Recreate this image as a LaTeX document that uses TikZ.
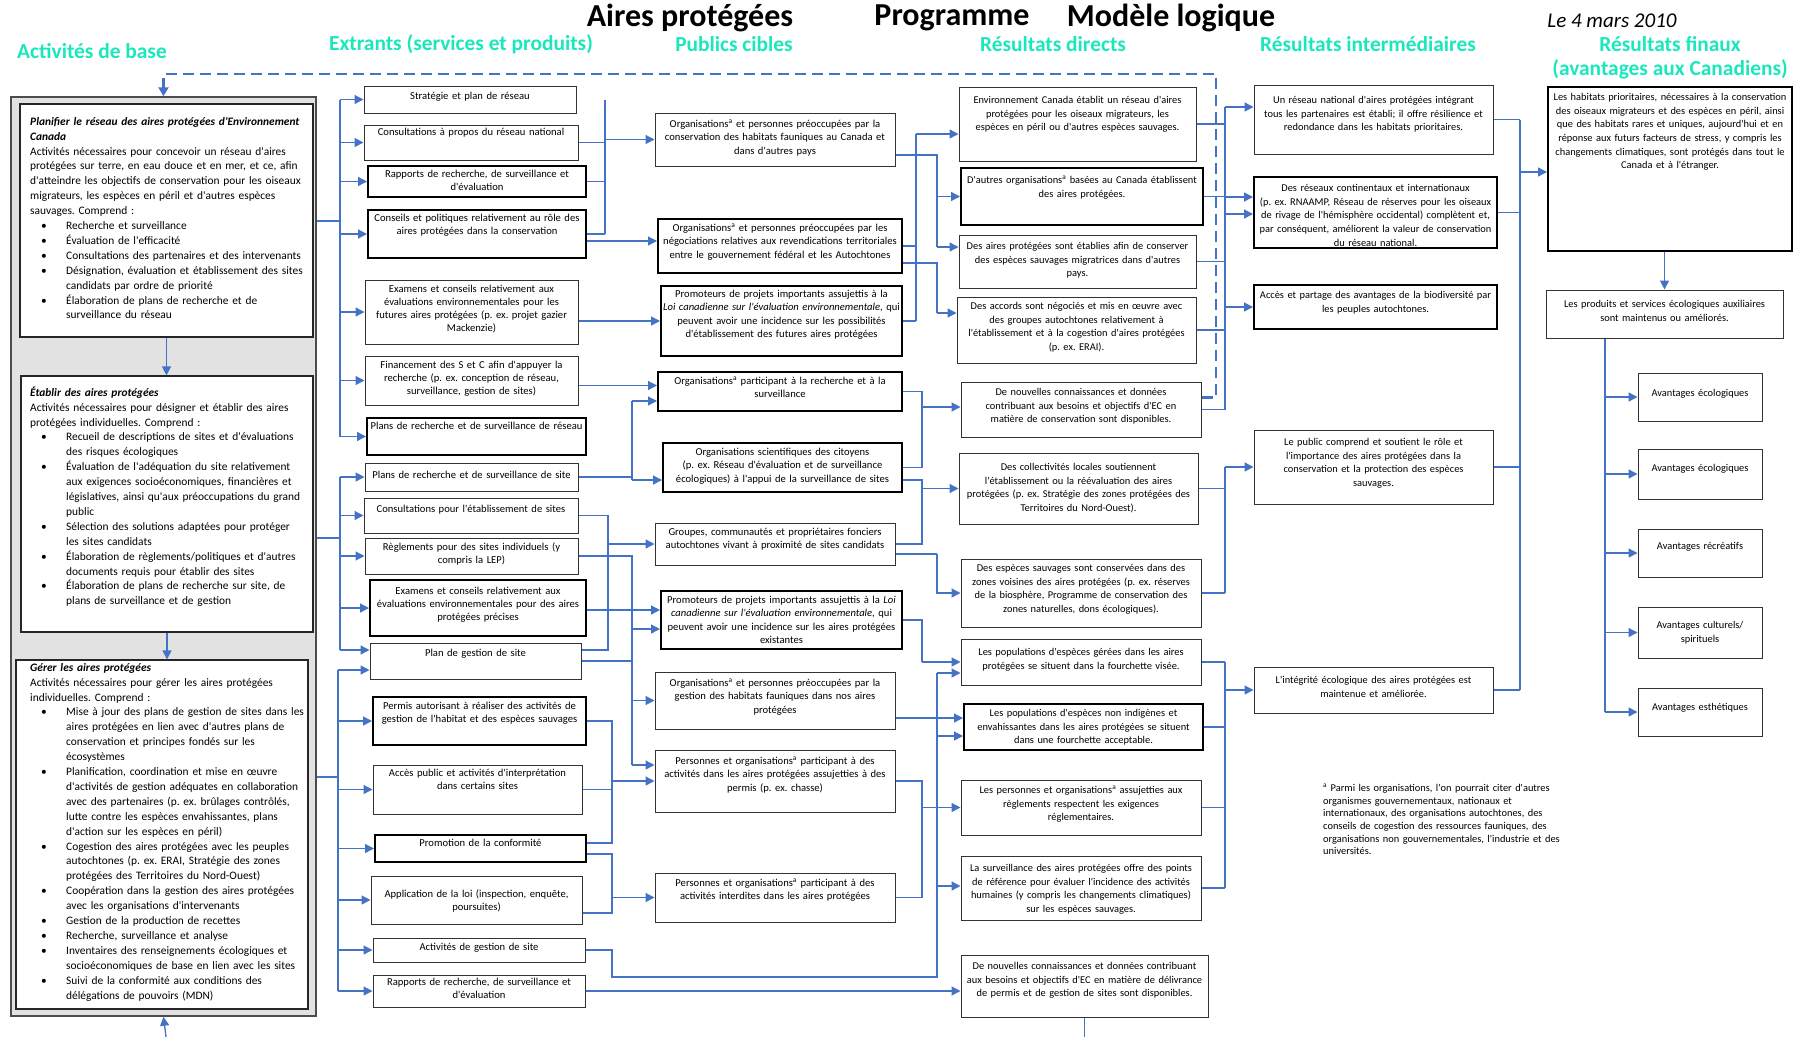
\documentclass[tikz,border=0pt]{standalone}
\usepackage{fontspec}
\setmainfont{Carlito}[Ligatures=TeXOff]
\usetikzlibrary{arrows.meta}

\definecolor{linkblue}{RGB}{68,114,196}
\definecolor{headcyan}{RGB}{26,232,188}
\definecolor{panelgrey}{RGB}{226,226,226}

\newcommand{\bitem}[1]{\par\noindent\makebox[36pt][l]{\hspace{11pt}\textbullet}%
    \parbox[t]{250pt}{\raggedright #1\strut}\par\prevdepth=\dp\strutbox}
\newcommand{\orga}{Organisations\textsuperscript{a}}
\frenchspacing

\begin{document}
\begin{tikzpicture}[x=1pt, y=-1pt,
    box/.style={draw=black!80, line width=1pt, fill=white, align=center,
        inner xsep=1pt, inner ysep=4pt},
    heavy/.style={draw=black, line width=2pt},
    boxsize/.style n args={3}{text width=#1pt-2pt, text height=#3pt,
        text depth=#2pt-#3pt-8pt},
    output/.style={box, font=\fontsize{10.6}{13}\selectfont},
    public/.style={box, font=\fontsize{10.6}{13.3}\selectfont},
    result/.style={box, font=\fontsize{10.4}{13.6}\selectfont},
    panel/.style={draw=black!70, line width=1.5pt, fill=panelgrey, inner sep=0},
    activity/.style={draw=black!85, line width=1.2pt, fill=white, inner sep=0},
    acttext/.style={anchor=north west, inner sep=0, text width=286pt,
        align=left, text height=9pt, font=\fontsize{11.4}{14.9}\selectfont},
    heading/.style={text=headcyan, font=\fontsize{21.4}{25}\selectfont\bfseries},
    bigtitle/.style={font=\fontsize{32}{38}\selectfont\bfseries},
    link/.style={draw=linkblue, line width=1.3pt},
    arrow/.style={link, -{Triangle[length=9pt, width=9pt]}},
    feedback/.style={draw=linkblue, line width=2.4pt,
        dash pattern=on 11pt off 6pt, -{Triangle[length=9pt, width=10pt]}},
]
    \fill[white] (0,0) rectangle (1803,1037);
    \useasboundingbox (0,0) rectangle (1803,1037);

    %% titles and column headings
    \node[bigtitle] (title1) at (690,18) {Aires protégées};
    \node[bigtitle] (title2) at (952,18) {Programme};
    \node[bigtitle] (title3) at (1171,18) {Modèle logique};
    \node[font=\fontsize{21}{25}\selectfont\itshape] (date) at (1612,21)
        {Le 4 mars 2010};
    \node[heading] (hcore) at (92,51) {Activités de base};
    \node[heading] (hout) at (461,44) {Extrants (services et produits)};
    \node[heading] (hpub) at (734,44) {Publics cibles};
    \node[heading] (hdir) at (1053,44) {Résultats directs};
    \node[heading] (hint) at (1368,44) {Résultats intermédiaires};
    \node[heading] (hfin) at (1670,44) {Résultats finaux};
    \node[heading] (hfin2) at (1670,69) {(avantages aux Canadiens)};

    %% core activities, three boxes on a grey panel
    \node[panel, minimum width=305pt, minimum height=919pt] (core)
        at (163.5,556.5) {};
    \node[activity, minimum width=293pt, minimum height=233pt] (plan)
        at (166.5,220.5) {};
    \node[activity, minimum width=292pt, minimum height=256pt] (etab)
        at (167,504) {};
    \node[activity, minimum width=292pt, minimum height=349pt] (gere)
        at (162,834.5) {};
    \draw[arrow] (plan.south) -- (plan.south |- etab.north);
    \draw[arrow] (etab.south) -- (etab.south |- gere.north);

    \node[acttext] (plantext) at (30,116) {%
        {\bfseries\itshape Planifier le réseau des aires protégées
        d'Environnement\\ Canada}\par
        Activités nécessaires pour concevoir un réseau d'aires\\
        protégées sur terre, en eau douce et en mer, et ce, afin\\
        d'atteindre les objectifs de conservation pour les oiseaux\\
        migrateurs, les espèces en péril et d'autres espèces\\
        sauvages. Comprend~:
        \bitem{Recherche et surveillance}
        \bitem{Évaluation de l'efficacité}
        \bitem{Consultations des partenaires et des intervenants}
        \bitem{Désignation, évaluation et établissement des sites\\
            candidats par ordre de priorité}
        \bitem{Élaboration de plans de recherche et de\\
            surveillance du réseau}};
    \node[acttext] (etabtext) at (30,387) {%
        {\bfseries\itshape Établir des aires protégées}\par
        Activités nécessaires pour désigner et établir des aires\\
        protégées individuelles. Comprend~:
        \bitem{Recueil de descriptions de sites et d'évaluations\\
            des risques écologiques}
        \bitem{Évaluation de l'adéquation du site relativement\\
            aux exigences socioéconomiques, financières et\\
            législatives, ainsi qu'aux préoccupations du grand\\ public}
        \bitem{Sélection des solutions adaptées pour protéger\\
            les sites candidats}
        \bitem{Élaboration de règlements/politiques et d'autres\\
            documents requis pour établir des sites}
        \bitem{Élaboration de plans de recherche sur site, de\\
            plans de surveillance et de gestion}};
    \begin{scope}
        \clip (gere.north west) rectangle (gere.south east);
        \node[acttext] (geretext) at (30,662) {%
            {\bfseries\itshape Gérer les aires protégées}\par
            Activités nécessaires pour gérer les aires protégées\\
            individuelles. Comprend~:
            \bitem{Mise à jour des plans de gestion de sites dans les\\
                aires protégées en lien avec d'autres plans de\\
                conservation et principes fondés sur les\\ écosystèmes}
            \bitem{Planification, coordination et mise en œuvre\\
                d'activités de gestion adéquates en collaboration\\
                avec des partenaires (p. ex. brûlages contrôlés,\\
                lutte contre les espèces envahissantes, plans\\
                d'action sur les espèces en péril)}
            \bitem{Cogestion des aires protégées avec les peuples\\
                autochtones (p. ex. ERAI, Stratégie des zones\\
                protégées des Territoires du Nord-Ouest)}
            \bitem{Coopération dans la gestion des aires protégées\\
                avec les organisations d'intervenants}
            \bitem{Gestion de la production de recettes}
            \bitem{Recherche, surveillance et analyse}
            \bitem{Inventaires des renseignements écologiques et\\
                socioéconomiques de base en lien avec les sites}
            \bitem{Suivi de la conformité aux conditions des\\
                délégations de pouvoirs (MDN)}};
    \end{scope}
    \draw[activity, fill=none] (gere.north west) rectangle (gere.south east);

    %% outputs
    \node[output, boxsize={212}{27}{9.5}] (o1) at (470,99.5)
        {Stratégie et plan de réseau};
    \node[output, boxsize={214}{35}{6.5}] (o2) at (471,142.5)
        {Consultations à propos du réseau national};
    \node[output, heavy, boxsize={218}{31}{7.5}] (o3) at (477,181.5)
        {Rapports de recherche, de surveillance et\\ d'évaluation};
    \node[output, heavy, boxsize={218}{48}{7.5}] (o4) at (477,234)
        {Conseils et politiques relativement au rôle des\\
        aires protégées dans la conservation};
    \node[output, boxsize={213}{64}{8.5}] (o5) at (471.5,312)
        {Examens et conseils relativement aux\\ évaluations
        environnementales pour les\\ futures aires protégées (p. ex.
        projet gazier\\ Mackenzie)};
    \node[output, boxsize={213}{49}{8.5}] (o6) at (471.5,380.5)
        {Financement des S et C afin d'appuyer la\\ recherche (p. ex.
        conception de réseau,\\ surveillance, gestion de sites)};
    \node[output, heavy, boxsize={219}{37}{7.5}] (o7) at (476.5,436.5)
        {Plans de recherche et de surveillance de réseau};
    \node[output, boxsize={213}{28}{11}] (o8) at (471.5,477)
        {Plans de recherche et de surveillance de site};
    \node[output, boxsize={214}{35}{10.5}] (o9) at (471,515.5)
        {Consultations pour l'établissement de sites};
    \node[output, boxsize={213}{36}{8.5}] (o10) at (471.5,556)
        {Règlements pour des sites individuels (y\\ compris la LEP)};
    \node[output, heavy, boxsize={216}{56}{10.5}] (o11) at (478,608)
        {Examens et conseils relativement aux\\ évaluations
        environnementales pour des aires\\ protégées précises};
    \node[output, boxsize={211}{36}{9.5}] (o12) at (475.5,661)
        {Plan de gestion de site};
    \node[output, heavy, boxsize={213}{48}{8.5}] (o13) at (479.5,721)
        {Permis autorisant à réaliser des activités de\\ gestion de
        l'habitat et des espèces sauvages};
    \node[output, boxsize={209}{49}{7.5}] (o14) at (477.5,789.5)
        {Accès public et activités d'interprétation\\ dans certains sites};
    \node[output, heavy, boxsize={211}{27}{7.5}] (o15) at (480.5,848.5)
        {Promotion de la conformité};
    \node[output, boxsize={211}{48}{17.5}] (o16) at (476.5,900)
        {Application de la loi (inspection, enquête,\\ poursuites)};
    \node[output, boxsize={212}{24}{8.5}] (o17) at (479,950)
        {Activités de gestion de site};
    \node[output, boxsize={212}{32}{6.5}] (o18) at (479,991)
        {Rapports de recherche, de surveillance et\\ d'évaluation};

    %% target groups
    \node[public, boxsize={240}{53}{10.5}] (p1) at (775,139.5)
        {\orga{} et personnes préoccupées par la\\ conservation des
        habitats fauniques au Canada et\\ dans d'autres pays};
    \node[public, heavy, boxsize={244}{54}{8.5}] (p2) at (780,246)
        {\orga{} et personnes préoccupées par les\\ négociations
        relatives aux revendications territoriales\\ entre le
        gouvernement fédéral et les Autochtones};
    \node[public, heavy, boxsize={241}{70}{7.5}] (p3) at (781.5,321)
        {Promoteurs de projets importants assujettis à la\\
        \textit{Loi canadienne sur l'évaluation environnementale}, qui\\
        peuvent avoir une incidence sur les possibilités\\
        d'établissement des futures aires protégées};
    \node[public, heavy, boxsize={244}{39}{8.5}] (p4) at (780,391.5)
        {\orga{} participant à la recherche et à la\\ surveillance};
    \node[public, heavy, boxsize={239}{49}{8.5}] (p5) at (782.5,467.5)
        {Organisations scientifiques des citoyens\\ (p. ex. Réseau
        d'évaluation et de surveillance\\ écologiques) à l'appui de la
        surveillance de sites};
    \node[public, boxsize={240}{42}{8.5}] (p6) at (775,544)
        {Groupes, communautés et propriétaires fonciers\\ autochtones
        vivant à proximité de sites candidats};
    \node[public, heavy, boxsize={241}{58}{8.5}] (p7) at (781.5,620)
        {Promoteurs de projets importants assujettis à la \textit{Loi}\\
        \textit{canadienne sur l'évaluation environnementale}, qui\\
        peuvent avoir une incidence sur les aires protégées\\ existantes};
    \node[public, boxsize={240}{57}{10.5}] (p8) at (775,700.5)
        {\orga{} et personnes préoccupées par la\\ gestion des habitats
        fauniques dans nos aires\\ protégées};
    \node[public, boxsize={240}{62}{10.5}] (p9) at (775,781)
        {Personnes et organisations\textsuperscript{a} participant à
        des\\ activités dans les aires protégées assujetties à des\\
        permis (p. ex. chasse)};
    \node[public, boxsize={240}{49}{9.5}] (p10) at (775,897.5)
        {Personnes et organisations\textsuperscript{a} participant à
        des\\ activités interdites dans les aires protégées};

    %% direct outcomes
    \node[result, boxsize={237}{74}{12.6}] (d1) at (1077.5,124)
        {Environnement Canada établit un réseau d'aires\\ protégées pour
        les oiseaux migrateurs, les\\ espèces en péril ou d'autres
        espèces sauvages.};
    \node[result, heavy, boxsize={242}{57}{11.6}] (d2) at (1082,196.5)
        {D'autres organisations\textsuperscript{a} basées au Canada
        établissent\\ des aires protégées.};
    \node[result, boxsize={237}{53}{10.6}] (d3) at (1077.5,261.5)
        {Des aires protégées sont établies afin de conserver\\ des
        espèces sauvages migratrices dans d'autres\\ pays.};
    \node[result, boxsize={239}{66}{8.6}] (d4) at (1076.5,330)
        {Des accords sont négociés et mis en œuvre avec\\ des groupes
        autochtones relativement à\\ l'établissement et à la cogestion
        d'aires protégées\\ (p. ex. ERAI).};
    \node[result, boxsize={240}{55}{9.6}] (d5) at (1081,409.5)
        {De nouvelles connaissances et données\\ contribuant aux besoins
        et objectifs d'EC en\\ matière de conservation sont
        disponibles.};
    \node[result, boxsize={239}{71}{13.6}] (d6) at (1078.5,488.5)
        {Des collectivités locales soutiennent\\ l'établissement ou la
        réévaluation des aires\\ protégées (p. ex. Stratégie des zones
        protégées des\\ Territoires du Nord-Ouest).};
    \node[result, boxsize={240}{68}{8.6}] (d7) at (1081,593)
        {Des espèces sauvages sont conservées dans des\\ zones voisines
        des aires protégées (p. ex. réserves\\ de la biosphère,
        Programme de conservation des\\ zones naturelles, dons
        écologiques).};
    \node[result, boxsize={240}{46}{12.6}] (d8) at (1081,662)
        {Les populations d'espèces gérées dans les aires\\ protégées se
        situent dans la fourchette visée.};
    \node[result, heavy, boxsize={239}{46}{8.6}] (d9) at (1083.5,727)
        {Les populations d'espèces non indigènes et\\ envahissantes dans
        les aires protégées se situent\\ dans une fourchette
        acceptable.};
    \node[result, boxsize={240}{55}{9.6}] (d10) at (1081,807.5)
        {Les personnes et organisations\textsuperscript{a} assujetties
        aux\\ règlements respectent les exigences\\ réglementaires.};
    \node[result, boxsize={240}{64}{11.6}] (d11) at (1081,888)
        {La surveillance des aires protégées offre des points\\ de
        référence pour évaluer l'incidence des activités\\ humaines (y
        compris les changements climatiques)\\ sur les espèces
        sauvages.};
    \node[result, boxsize={247}{62}{10.6}] (d12) at (1084.5,986)
        {De nouvelles connaissances et données contribuant\\ aux besoins
        et objectifs d'EC en matière de délivrance\\ de permis et de
        gestion de sites sont disponibles.};

    %% intermediate outcomes
    \node[result, boxsize={239}{69}{14.6}] (i1) at (1373.5,119.5)
        {Un réseau national d'aires protégées intégrant\\ tous les
        partenaires est établi; il offre résilience et\\ redondance dans
        les habitats prioritaires.};
    \node[result, heavy, boxsize={243}{71}{10.6}] (i2) at (1375.5,212.5)
        {Des réseaux continentaux et internationaux\\ (p. ex. RNAAMP,
        Réseau de réserves pour les oiseaux\\ de rivage de l'hémisphère
        occidental) complètent et,\\ par conséquent, améliorent la
        valeur de conservation\\ du réseau national.};
    \node[result, heavy, boxsize={243}{44}{9.6}] (i3) at (1375.5,307)
        {Accès et partage des avantages de la biodiversité par\\ les
        peuples autochtones.};
    \node[result, boxsize={239}{74}{11.6}] (i4) at (1373.5,467)
        {Le public comprend et soutient le rôle et\\ l'importance des
        aires protégées dans la\\ conservation et la protection des
        espèces\\ sauvages.};
    \node[result, boxsize={239}{46}{12.6}] (i5) at (1373.5,690)
        {L'intégrité écologique des aires protégées est\\ maintenue et
        améliorée.};

    %% final outcomes
    \node[result, heavy, boxsize={244}{164}{9.6}] (f1) at (1670,169)
        {Les habitats prioritaires, nécessaires à la conservation\\ des
        oiseaux migrateurs et des espèces en péril, ainsi\\ que des
        habitats rares et uniques, aujourd'hui et en\\ réponse aux futurs
        facteurs de stress, y compris les\\ changements climatiques, sont
        protégés dans tout le\\ Canada et à l'étranger.};
    \node[result, boxsize={237}{48}{13.6}] (f2) at (1664.5,314)
        {Les produits et services écologiques auxiliaires\\ sont
        maintenus ou améliorés.};
    \node[result, boxsize={124}{48}{19.6}] (f3) at (1700,397)
        {Avantages écologiques};
    \node[result, boxsize={124}{50}{18.6}] (f4) at (1700,474)
        {Avantages écologiques};
    \node[result, boxsize={124}{48}{16.6}] (f5) at (1700,553)
        {Avantages récréatifs};
    \node[result, boxsize={124}{51}{17.6}] (f6) at (1700,632.5)
        {Avantages culturels/\\ spirituels};
    \node[result, boxsize={124}{48}{18.6}] (f7) at (1700,712)
        {Avantages esthétiques};

    \node[anchor=north west, inner sep=0, text width=250pt, align=left,
        font=\fontsize{10.4}{12.7}\selectfont] (note) at (1323,784)
        {\textsuperscript{a} Parmi les organisations, l'on pourrait citer
        d'autres\\ organismes gouvernementaux, nationaux et\\
        internationaux, des organisations autochtones, des\\ conseils de
        cogestion des ressources fauniques, des\\ organisations non
        gouvernementales, l'industrie et des\\ universités.};

    %% core activities -> outputs
    \coordinate (ja) at (340,221);
    \coordinate (jb) at (340,538);
    \coordinate (jc) at (338,777);
    \coordinate (o12a) at ([yshift=11pt]o12.west);
    \coordinate (o12b) at ([yshift=-9pt]o12.west);
    \draw[link] (core.east |- ja) -- (ja);
    \draw[link] (core.east |- jb) -- (jb);
    \draw[link] (core.east |- jc) -- (jc);
    \draw[link] (ja |- o1) -- (ja |- o7);
    \draw[link] (jb |- o8) -- (jb |- o12a);
    \draw[link] (jc |- o12b) -- (jc |- o18);
    \foreach \n in {o1,o2,o3,o4,o5,o6,o7}
        \draw[arrow] (ja |- \n.west) -- (\n.west);
    \foreach \n in {o8.west,o9.west,o10.west,o11.west,o12a}
        \draw[arrow] (jb |- \n) -- (\n);
    \foreach \n in {o12b,o13.west,o14.west,o15.west,o16.west,o17.west,o18.west}
        \draw[arrow] (jc |- \n) -- (\n);

    %% outputs -> target groups
    \coordinate (ka) at (605,0);
    \coordinate (kb) at (632,0);
    \coordinate (kc) at (608,0);
    \coordinate (kd) at (612,0);
    \coordinate (p2a) at ([yshift=5pt]p2.west);
    \coordinate (p4a) at ([yshift=6pt]p4.west);
    \coordinate (p4b) at ([yshift=-9.5pt]p4.west);
    \coordinate (p5a) at ([yshift=-12.5pt]p5.west);
    \coordinate (p7a) at ([yshift=10pt]p7.west);
    \coordinate (p7b) at ([yshift=-9pt]p7.west);
    \coordinate (p9a) at ([yshift=16pt]p9.west);
    \coordinate (o15a) at ([yshift=5.5pt]o15.east);
    \coordinate (o15b) at ([yshift=-5.5pt]o15.east);
    \coordinate (o16b) at ([yshift=-13pt]o16.east);
    \draw[link] (ka |- o1.east) -- (ka |- o4.east);
    \foreach \n in {o2,o3,o4}
        \draw[link] (\n.east) -- (ka |- \n.east);
    \draw[arrow] (ka |- p1.west) -- (p1.west);
    \draw[arrow] (o4.east |- p2a) -- (p2a);
    \draw[arrow] (o5.east |- p3.west) -- (p3.west);
    \draw[arrow] (o6.east |- p4a) -- (p4a);
    \draw[link] (o8.east) -- (kb |- o8.east);
    \draw[link] (kb |- p4b) -- (kb |- p5a);
    \draw[arrow] (kb |- p4b) -- (p4b);
    \draw[arrow] (kb |- p5a) -- (p5a);
    \draw[link] (o9.east) -- (kc |- o9.east) -- (kc |- o12a)
        -- (o12.east |- o12a);
    \draw[arrow] (kc |- p6.west) -- (p6.west);
    \draw[arrow] (o11.east |- p7a) -- (p7a);
    \draw[link] (o10.east) -- (kb |- o10.east) -- (kb |- p9a);
    \draw[link] (o12.east) -- (kb |- o12.east);
    \foreach \n in {p7b,p8.west,p9a}
        \draw[arrow] (kb |- \n) -- (\n);
    \draw[link] (o13.east) -- (kd |- o13.east) -- (kd |- o15a) -- (o15a);
    \draw[link] (o14.east) -- (kd |- o14.east);
    \draw[arrow] (kd |- p9.west) -- (p9.west);
    \draw[link] (o15b) -- (kd |- o15b) -- (kd |- o16b) -- (o16b);
    \draw[arrow] (kd |- p10.west) -- (p10.west);

    %% target groups -> direct outcomes
    \coordinate (ma) at (916,0);
    \coordinate (mb) at (937,0);
    \coordinate (mc) at (922,0);
    \coordinate (lowrun) at (937,977);
    \coordinate (d1a) at ([yshift=-10pt]d1.west);
    \coordinate (p1b) at ([yshift=-15.5pt]p1.east);
    \coordinate (p2b) at ([yshift=-17pt]p2.east);
    \coordinate (d3a) at ([yshift=14.5pt]d3.west);
    \coordinate (d4a) at ([yshift=17pt]d4.west);
    \coordinate (d5a) at ([yshift=2.5pt]d5.west);
    \coordinate (p5b) at ([yshift=-12.5pt]p5.east);
    \coordinate (p6b) at ([yshift=-10pt]p6.east);
    \coordinate (d8b) at ([yshift=-11pt]d8.west);
    \coordinate (d9a) at ([yshift=9pt]d9.west);
    \coordinate (d9b) at ([yshift=-9pt]d9.west);
    \coordinate (d11a) at ([yshift=2pt]d11.west);
    \coordinate (d12a) at ([yshift=-5pt]d12.west);
    \draw[link] (p2.east) -- (ma |- p2.east);
    \draw[link] (p3.east) -- (ma |- p3.east);
    \draw[link] (ma |- d1a) -- (ma |- p3.east);
    \draw[arrow] (ma |- d1a) -- (d1a);
    \draw[link] (p1b) -- (mb |- p1b) -- (mb |- d3a);
    \draw[arrow] (mb |- d2.west) -- (d2.west);
    \draw[arrow] (mb |- d3a) -- (d3a);
    \draw[link] (p2b) -- (mb |- p2b) -- (mb |- d4a);
    \draw[arrow] (mb |- d4a) -- (d4a);
    \draw[link] (p4.east) -- (mc |- p4.east) -- (mc |- p5.east) -- (p5.east);
    \draw[arrow] (mc |- d5a) -- (d5a);
    \draw[link] (p5b) -- (mc |- p5b) -- (mc |- p6.east) -- (p6.east);
    \draw[arrow] (mc |- d6.west) -- (d6.west);
    \draw[link] (p6b) -- (mb |- p6b);
    \draw[arrow] (mb |- p6b) |- (d7.west);
    \draw[link] (p7.east) -- (mc |- p7.east) -- (mc |- d8.west);
    \draw[arrow] (mc |- d8.west) -- (d8.west);
    \draw[arrow] (p8.east |- d9a) -- (d9a);
    \draw[link] (p9.east) -- (mc |- p9.east) -- (mc |- p10.east) -- (p10.east);
    \draw[arrow] (mc |- d10.west) -- (d10.west);
    \draw[link] (o17.east) -- (kd |- o17.east) -- (kd |- lowrun) -- (lowrun)
        -- (mb |- d8b);
    \foreach \n in {d8b,d9b,d11a}
        \draw[arrow] (mb |- \n) -- (\n);
    \draw[arrow] (o18.east |- d12a) -- (d12a);

    %% direct -> intermediate outcomes
    \coordinate (na) at (1225,0);
    \coordinate (i1a) at ([yshift=12.5pt]i1.west);
    \coordinate (i2a) at ([yshift=15.5pt]i2.west);
    \coordinate (i2b) at ([yshift=-1.5pt]i2.west);
    \draw[link] (na |- i1a) -- (na |- d5.east);
    \foreach \n in {d1,d2,d3,d4,d5}
        \draw[link] (\n.east) -- (na |- \n.east);
    \foreach \n in {i1a,i2a,i2b,i3.west}
        \draw[arrow] (na |- \n) -- (\n);
    \draw[link] (na |- i4.west) -- (na |- d7.east);
    \foreach \n in {d6,d7}
        \draw[link] (\n.east) -- (na |- \n.east);
    \draw[arrow] (na |- i4.west) -- (i4.west);
    \draw[link] (na |- d8.east) -- (na |- d11.east);
    \foreach \n in {d8,d9,d10,d11}
        \draw[link] (\n.east) -- (na |- \n.east);
    \draw[arrow] (na |- i5.west) -- (i5.west);

    %% intermediate -> final outcomes
    \coordinate (qa) at (1520,0);
    \coordinate (ra) at (1605,0);
    \coordinate (f1a) at ([yshift=-3pt]f1.west);
    \draw[link] (qa |- i1.east) -- (qa |- i5.east);
    \foreach \n in {i1,i2,i4,i5}
        \draw[link] (\n.east) -- (qa |- \n.east);
    \draw[arrow] (qa |- f1a) -- (f1a);
    \draw[arrow] (f1.south -| f2.north) -- (f2.north);
    \draw[link] (ra |- f2.south) -- (ra |- f7.west);
    \foreach \n in {f3,f4,f5,f6,f7}
        \draw[arrow] (ra |- \n.west) -- (\n.west);

    %% feedback to the core activities
    \coordinate (d5b) at ([yshift=12pt]d5.east);
    \coordinate (loopcorner) at (1216,74);
    \coordinate (loopin) at (166,1037);
    \coordinate (loopout) at (d12.south |- loopin);
    \draw[feedback] (d5b) -- (loopcorner |- d5b) -- (loopcorner)
        -- (core.north |- loopcorner) -- (core.north);
    \draw[link] (d12.south) -- (loopout);
    \draw[arrow] (loopin) -- (core.south);
\end{tikzpicture}
\end{document}
